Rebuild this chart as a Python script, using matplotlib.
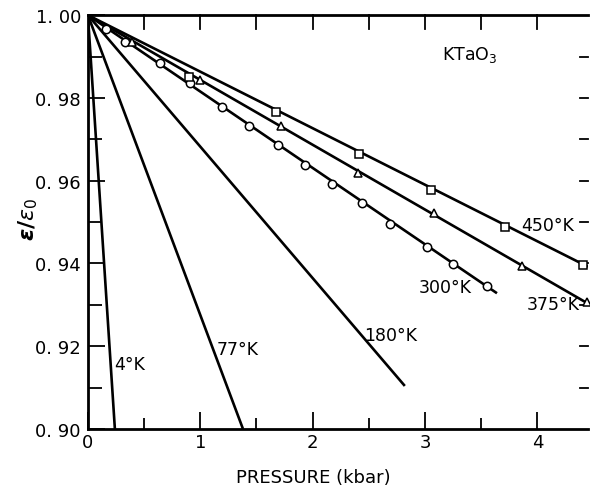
#!/usr/bin/env python3

import matplotlib
matplotlib.use("Agg")
import matplotlib.pyplot as plt
from matplotlib.ticker import MultipleLocator

# straight-line fits, all start at (0, 1.00)
line_temps = ["4°K", "77°K", "180°K", "300°K", "375°K", "450°K"]
line_end_p = [0.24, 1.38, 2.82, 3.64, 4.45, 4.45]
line_end_e = [0.900, 0.900, 0.9104, 0.9328, 0.9303, 0.9392]

# measured points
p_300 = [0.16, 0.33, 0.64, 0.91, 1.19, 1.43, 1.69, 1.93, 2.17, 2.44, 2.69, 3.02, 3.25, 3.55]
e_300 = [0.9966, 0.9935, 0.9884, 0.9836, 0.9778, 0.9732, 0.9686, 0.9638, 0.9592, 0.9546,
         0.9495, 0.9440, 0.9399, 0.9345]
p_375 = [0.39, 1.00, 1.72, 2.40, 3.08, 3.86, 4.44]
e_375 = [0.9935, 0.9843, 0.9732, 0.9618, 0.9522, 0.9394, 0.9307]
p_450 = [0.90, 1.67, 2.41, 3.05, 3.71, 4.41]
e_450 = [0.9850, 0.9766, 0.9664, 0.9577, 0.9488, 0.9396]

label_xy = {
    "4°K": (0.37, 0.9157),
    "77°K": (1.33, 0.9193),
    "180°K": (2.69, 0.9227),
    "300°K": (3.18, 0.9343),
    "375°K": (4.14, 0.9302),
    "450°K": (4.09, 0.9493),
}

plt.rcParams["font.family"] = "DejaVu Sans"

fig = plt.figure(figsize=(5.9, 4.89), dpi=100)
ax = fig.add_axes([0.149, 0.1207, 0.8476, 0.8463])

for t, px, ey in zip(line_temps, line_end_p, line_end_e):
    ax.plot([0, px], [1.0, ey], color="black", lw=1.9, solid_capstyle="butt", zorder=2)
    lx, ly = label_xy[t]
    ax.text(lx, ly, t, fontsize=12.5, ha="center", va="center")

mk = dict(color="black", ls="none", mfc="white", mec="black", mew=1.1, ms=6, zorder=3, clip_on=False)
ax.plot(p_300, e_300, marker="o", **mk)
ax.plot(p_375, e_375, marker="^", **mk)
ax.plot(p_450, e_450, marker="s", **mk)

ax.text(3.40, 0.9906, r"KTaO$_3$", fontsize=12.5, ha="center", va="center")

ax.set_xlim(0, 4.45)
ax.set_ylim(0.90, 1.00)
ax.xaxis.set_major_locator(MultipleLocator(1))
ax.xaxis.set_minor_locator(MultipleLocator(0.5))
ax.yaxis.set_major_locator(MultipleLocator(0.02))
ax.yaxis.set_minor_locator(MultipleLocator(0.01))
ax.yaxis.set_major_formatter(lambda v, pos: f"{v:.2f}".replace(".", ". "))

ax.tick_params(axis="both", which="both", direction="in", width=1.3, labelsize=13)
ax.tick_params(axis="y", which="major", length=12, right=False, pad=5)
ax.tick_params(axis="y", which="minor", length=10, right=False)
ax.tick_params(axis="x", which="major", length=12, top=False, pad=3)
ax.tick_params(axis="x", which="minor", length=8, top=False)

# inward ticks along top (every 0.5) and right (every 0.01)
for xv in [0.5, 1, 1.5, 2, 2.5, 3, 3.5, 4]:
    ax.plot([xv, xv], [1.0, 0.9967], color="black", lw=1.3, clip_on=False)
for yv in [0.91, 0.92, 0.93, 0.94, 0.95, 0.96, 0.97, 0.98, 0.99]:
    ax.plot([4.45, 4.38], [yv, yv], color="black", lw=1.3, clip_on=False)

for s in ["left", "bottom", "top"]:
    ax.spines[s].set_linewidth(2.0)
ax.spines["right"].set_visible(False)

ax.set_xlabel("PRESSURE (kbar)", fontsize=13)
ax.xaxis.set_label_coords(0.45, -0.095)
ax.set_ylabel(r"$\boldsymbol{\epsilon/\epsilon_0}$", fontsize=16)
ax.yaxis.set_label_coords(-0.095, 0.51)

plt.savefig("out.png", dpi=100)
